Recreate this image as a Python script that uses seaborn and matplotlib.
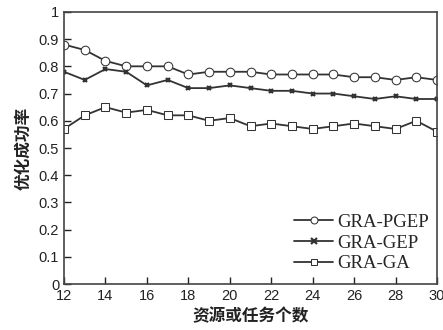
import numpy as np
import pandas as pd
import seaborn as sns
import matplotlib
matplotlib.use("Agg")
import matplotlib.pyplot as plt

# data
sizes = list(range(12, 31))
gra_pgep = [0.88, 0.86, 0.82, 0.80, 0.80, 0.80, 0.77, 0.78, 0.78, 0.78,
            0.77, 0.77, 0.77, 0.77, 0.76, 0.76, 0.75, 0.76, 0.75]
gra_gep = [0.78, 0.75, 0.79, 0.78, 0.73, 0.75, 0.72, 0.72, 0.73, 0.72,
           0.71, 0.71, 0.70, 0.70, 0.69, 0.68, 0.69, 0.68, 0.68]
gra_ga = [0.57, 0.62, 0.65, 0.63, 0.64, 0.62, 0.62, 0.60, 0.61, 0.58,
          0.59, 0.58, 0.57, 0.58, 0.59, 0.58, 0.57, 0.60, 0.56]
series_names = ["GRA-PGEP", "GRA-GEP", "GRA-GA"]

df = pd.DataFrame({"size": sizes, "GRA-PGEP": gra_pgep,
                   "GRA-GEP": gra_gep, "GRA-GA": gra_ga})
long_df = df.melt(id_vars="size", var_name="method", value_name="rate")

sns.set_theme(style="white")
plt.rcParams["font.family"] = ["Liberation Sans", "DejaVu Sans"]
plt.rcParams["xtick.direction"] = "in"
plt.rcParams["ytick.direction"] = "in"

fig = plt.figure(figsize=(4.43, 3.30), dpi=100)
ax = fig.add_axes([0.1445, 0.139, 0.842, 0.825])

styles = {"GRA-PGEP": dict(marker="o", markersize=6.2),
          "GRA-GEP": dict(marker="x", markersize=3.5, markeredgewidth=1.6),
          "GRA-GA": dict(marker="s", markersize=5.2)}

for name in series_names:
    sub = long_df[long_df["method"] == name]
    sns.lineplot(data=sub, x="size", y="rate", ax=ax, label=name,
                 color="#333333", linewidth=1.3, markerfacecolor="white",
                 markeredgecolor="#333333", **styles[name])

ax.set_xlim(12, 30)
ax.set_ylim(0, 1)
ax.set_xticks(range(12, 31, 2))
ax.set_yticks(np.round(np.arange(0, 1.01, 0.1), 1))
ax.set_yticklabels(["0", "0.1", "0.2", "0.3", "0.4", "0.5", "0.6", "0.7",
                    "0.8", "0.9", "1"])
ax.tick_params(axis="both", labelsize=10.5, colors="#222222", length=5,
               width=1, top=False, right=False, bottom=True, left=True)
for spine in ax.spines.values():
    spine.set_color("#444444")
    spine.set_linewidth(1.2)

cjk = ["Noto Sans CJK SC", "DejaVu Sans"]
ax.set_xlabel("资源或任务个数", fontsize=12, fontweight="bold", family=cjk,
              color="#222222", labelpad=3)
ax.set_ylabel("优化成功率", fontsize=12, fontweight="bold", family=cjk,
              color="#222222", labelpad=5)

leg = ax.legend(loc="lower right", frameon=False, handlelength=2.1,
                handletextpad=0.2, labelspacing=0.2,
                prop={"family": "Liberation Serif", "size": 13.5},
                borderaxespad=0.4, bbox_to_anchor=(1.018, -0.012))
for h in leg.legend_handles:
    h.set_markersize(5)

fig.savefig("out.png", dpi=100)
plt.close(fig)
